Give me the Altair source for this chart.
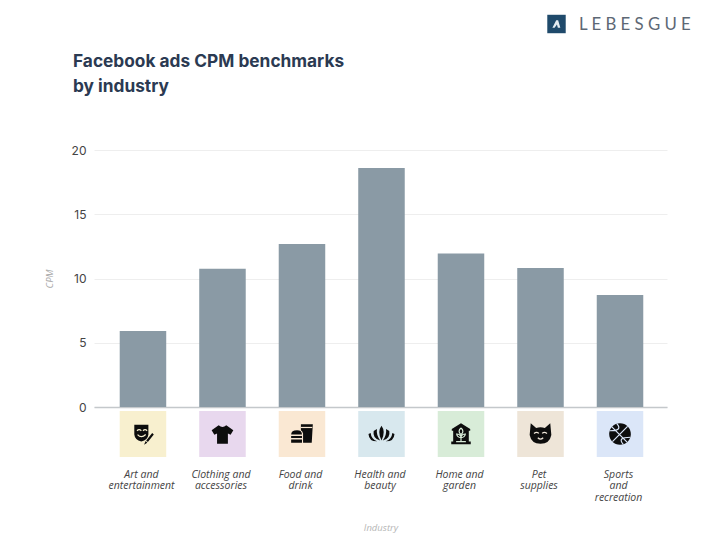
import altair as alt
import pandas as pd

industries = ["Art and|entertainment", "Clothing and|accessories", "Food and|drink",
              "Health and|beauty", "Home and|garden", "Pet|supplies", "Sports|and|recreation"]
cpm = [5.92, 10.75, 12.68, 18.6, 11.95, 10.82, 8.72]
tile_colors = ["#f8f0cf", "#e8d8ee", "#fae8d3", "#d8e8ee", "#d8ecd8", "#eee5d8", "#dbe6f8"]
tile_top = [-0.31] * 7
tile_bottom = [-3.9] * 7
icon_level = [-2.1] * 7
icon_paths = [
    "M-.8 -.85 L.5 -.85 L.5 .05 Q.45 .55 -.15 .7 Q-.75 .55 -.8 .05 Z M.85 -.1 L1 .05 L.45 .75 L.3 .6 Z M.25 .65 L.4 .8 L.1 1 Z",
    "M-.35 -.8 Q0 -.5 .35 -.8 L1 -.35 L.75 .08 L.5 -.05 L.5 .9 L-.5 .9 L-.5 -.05 L-.75 .08 L-1 -.35 Z",
    "M-.1 -.9 L1 -.9 L.9 .8 L.1 .8 L.1 -.05 Q.05 -.25 -.1 -.35 Z M-1 .05 Q-1 -.35 -.45 -.35 Q0 -.35 0 .05 Z M-1 .18 L0 .18 L0 .38 L-1 .38 Z M-1 .5 L0 .5 L0 .8 L-1 .8 Z",
    "M0 -.75 Q.42 -.2 0 .6 Q-.42 -.2 0 -.75 Z M-.42 -.45 Q-.5 .1 -.12 .6 Q-.85 .4 -.72 -.28 Z M.42 -.45 Q.5 .1 .12 .6 Q.85 .4 .72 -.28 Z M-1 -.1 Q-.95 .45 -.4 .68 Q-1.15 .7 -1.2 .0 Z M1 -.1 Q.95 .45 .4 .68 Q1.15 .7 1.2 .0 Z",
    "M-.85 -.45 L0 -1 L.85 -.45 L.85 -.3 L.72 -.3 L.72 .7 L.9 .7 L.9 .95 L-.9 .95 L-.9 .7 L-.72 .7 L-.72 -.3 L-.85 -.3 Z",
    "M-.9 -1 L-.4 -.55 Q0 -.68 .4 -.55 L.9 -1 L1 .1 Q.85 .9 0 .9 Q-.85 .9 -1 .1 Z",
    "M-1 0 A1 1 0 1 1 1 0 A1 1 0 1 1 -1 0 Z",
]
icon_details = [
    "M-.55 -.3 Q-.35 -.5 -.15 -.3 M.0 -.3 Q.2 -.5 .38 -.3 M-.5 .05 Q-.15 .45 .25 .05",
    "M0 0 L0 0",
    "M-.1 -.6 L.95 -.6",
    "M0 0 L0 0",
    "M0 .7 L0 -.05 M0 -.55 Q.35 -.25 0 .05 Q-.35 -.25 0 -.55 M0 .35 Q.35 .3 .4 0 Q.1 0 0 .25 M0 .35 Q-.35 .3 -.4 0 Q-.1 0 0 .25 M-.45 .7 L.45 .7",
    "M-.6 -.05 Q-.35 -.25 -.15 -.05 M.15 -.05 Q.35 -.25 .6 -.05 M-.25 .35 Q0 .6 .25 .35",
    "M-.75 -.65 Q-.1 0 .65 .75 M.7 -.7 Q0 0 -.7 .7 M-.3 -.95 Q.3 -.3 -.95 -.3 M.95 .3 Q-.3 .3 .3 .95",
]
title_lines = ["Facebook ads CPM benchmarks", "by industry"]
logo_text = ["L E B E S G U E"]
logo_glyph = "M-.05 -.7 L.3 -.7 L.7 .7 L.25 .7 L.08 .1 L-.35 .7 L-.75 .7 Z"

df = pd.DataFrame({
    "industry": industries, "cpm": cpm, "tile": tile_colors,
    "top": tile_top, "bottom": tile_bottom, "level": icon_level,
    "icon": icon_paths, "detail": icon_details,
})
order = industries
x_scale = alt.Scale(domain=order, paddingInner=0.415, paddingOuter=0.311, align=0.52)
y_scale = alt.Scale(domain=[0, 20], nice=False)
x_plain = alt.X("industry:N", sort=order, scale=x_scale, title="Industry")

bars = alt.Chart(df).mark_bar(color="#8a9aa5", clip=False).encode(
    x=alt.X("industry:N", sort=order, scale=x_scale, title="Industry", axis=alt.Axis(
        labelExpr="split(datum.label, '|')", labelAngle=0, labelPadding=62, labelOffset=-1.5, labelFont="Open Sans",
        labelFontStyle="italic", labelFontSize=10.5, labelColor="#444444", labelLineHeight=11.5,
        labelLimit=0, ticks=False, domainColor="#c4c8cb", domainWidth=1.5, grid=False,
        titleFont="Open Sans", titleFontStyle="italic", titleFontWeight="normal", titleFontSize=9.5,
        titleColor="#b5b5b5", titlePadding=20)),
    y=alt.Y("cpm:Q", scale=y_scale, title="CPM", axis=alt.Axis(
        values=[0, 5, 10, 15, 20], grid=True, gridColor="#eeeeee", domain=False, ticks=False,
        labelFont="Inter", labelFontSize=12, labelColor="#444444", labelPadding=8,
        titleFont="Open Sans", titleFontStyle="italic", titleFontWeight="normal", titleFontSize=9.5,
        titleColor="#a8a8a8", titlePadding=17)),
)

tiles = alt.Chart(df).mark_bar().encode(
    x=x_plain,
    y=alt.Y("top:Q", scale=y_scale, title="CPM"),
    y2="bottom:Q",
    color=alt.Color("tile:N", scale=None, legend=None),
)

icons = alt.Chart(df).mark_point(filled=True, opacity=1, color="#0d0d0d", size=470).encode(
    x=x_plain,
    y=alt.Y("level:Q", scale=y_scale, title="CPM"),
    shape=alt.Shape("icon:N", scale=None, legend=None),
)

details = alt.Chart(df).mark_point(filled=False, opacity=1, strokeWidth=1.2, size=470).encode(
    x=x_plain,
    y=alt.Y("level:Q", scale=y_scale, title="CPM"),
    shape=alt.Shape("detail:N", scale=None, legend=None),
    stroke=alt.Stroke("tile:N", scale=None, legend=None),
)

logo_df = pd.DataFrame({"label": logo_text, "glyph": [logo_glyph]})
logo_box = alt.Chart(logo_df).mark_point(shape="square", filled=True, opacity=1, color="#1f4a6b", size=340).encode(
    x=alt.value(462.5), y=alt.value(-126))
logo_a = alt.Chart(logo_df).mark_point(filled=True, opacity=1, color="#e4ecf2", size=120).encode(
    x=alt.value(462.5), y=alt.value(-126), shape=alt.Shape("glyph:N", scale=None, legend=None))
logo_word = alt.Chart(logo_df).mark_text(
    font="Lato", fontSize=16.8, color="#5d6875", align="left", baseline="middle").encode(
    x=alt.value(485), y=alt.value(-125), text="label:N")

title_marks = [
    alt.Chart(pd.DataFrame({"line": [line]})).mark_text(
        font="Inter", fontWeight="bold", fontSize=17.3, color="#2b3a52", align="left", baseline="middle"
    ).encode(x=alt.value(-21), y=alt.value(pos), text="line:N")
    for line, pos in zip(title_lines, [-88, -63])
]

chart = alt.layer(bars, tiles, icons, details, logo_box, logo_a, logo_word, *title_marks).properties(
    width=573, height=257,
    padding={"left": 86, "top": 142, "right": 45, "bottom": 130},
    autosize=alt.AutoSizeParams(type="none"),
    background="white",
).configure_view(stroke=None)

chart.save("out.html", embed_options={"renderer": "svg", "actions": False})
